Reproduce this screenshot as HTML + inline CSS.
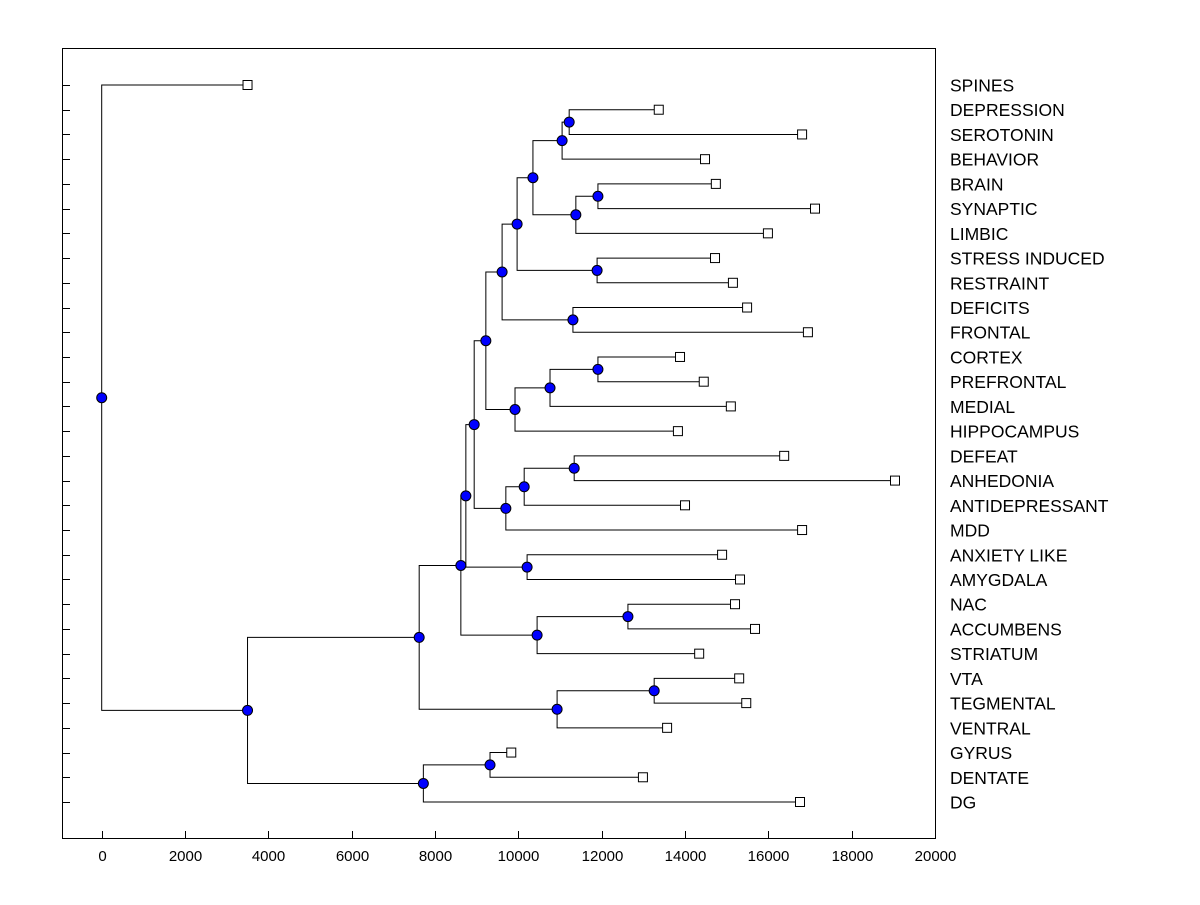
<!DOCTYPE html>
<html><head><meta charset="utf-8"><style>
body{margin:0;background:#fff}
svg text{font-family:"Liberation Sans",Arial,sans-serif}
</style></head><body>
<svg id="chart" width="1200" height="900" viewBox="0 0 1200 900" xmlns="http://www.w3.org/2000/svg">
<rect x="62.5" y="48.5" width="873" height="790" fill="none" stroke="#000" stroke-width="1"/>
<g id="lines"></g>
<g id="marks"></g>
<g id="axis"></g>
<g id="labels"></g>
</svg>
<script>
const leafNames=["SPINES","DEPRESSION","SEROTONIN","BEHAVIOR","BRAIN","SYNAPTIC","LIMBIC","STRESS INDUCED","RESTRAINT","DEFICITS","FRONTAL","CORTEX","PREFRONTAL","MEDIAL","HIPPOCAMPUS","DEFEAT","ANHEDONIA","ANTIDEPRESSANT","MDD","ANXIETY LIKE","AMYGDALA","NAC","ACCUMBENS","STRIATUM","VTA","TEGMENTAL","VENTRAL","GYRUS","DENTATE","DG"];
const leafValues=[3500,13370,16810,14480,14740,17120,15990,14720,15150,15490,16950,13880,14450,15100,13830,16380,19040,14000,16810,14890,15320,15200,15680,14340,15300,15470,13570,9830,12990,16760];
const mergeLeft=[1,30,4,32,31,7,34,9,36,11,39,40,38,15,43,44,42,19,46,21,49,48,24,52,51,27,55,54,0];
const mergeRight=[2,3,5,6,33,8,35,10,37,12,13,14,41,16,17,18,45,20,47,22,23,50,25,26,53,28,29,56,57];
const mergeHeights=[11220,11050,11910,11380,10350,11890,9970,11310,9610,11910,10760,9920,9220,11340,10140,9700,8940,10210,8740,12630,10450,8620,13260,10930,7620,9320,7720,3500,0];
const xTicks=[0,2000,4000,6000,8000,10000,12000,14000,16000,18000,20000];

const NS="http://www.w3.org/2000/svg";
const x=v=>101.7+v*(935-101.7)/20000;
const yRow=i=>85+i*(802-85)/29;
function mk(tag,attrs,parent){const e=document.createElementNS(NS,tag);for(const k in attrs)e.setAttribute(k,attrs[k]);parent.appendChild(e);return e;}
const L=document.getElementById('lines'),M=document.getElementById('marks'),A=document.getElementById('axis'),T=document.getElementById('labels');
const nodeX=[],nodeY=[];
leafValues.forEach((v,i)=>{nodeX[i]=x(v);nodeY[i]=yRow(i);});
mergeHeights.forEach((h,i)=>{
  const id=30+i,a=mergeLeft[i],b=mergeRight[i];
  const nx=x(h),ny=(nodeY[a]+nodeY[b])/2;
  nodeX[id]=nx;nodeY[id]=ny;
  const p=mk('path',{d:`M${nodeX[a]},${nodeY[a]}H${nx}V${nodeY[b]}H${nodeX[b]}`,fill:'none',stroke:'#000','stroke-width':1},L);
  
  
});
mergeHeights.forEach((h,i)=>{
  const c=mk('circle',{cx:nodeX[30+i],cy:nodeY[30+i],r:5,fill:'#0000ff',stroke:'#000','stroke-width':1},M);
  
  
});
leafValues.forEach((v,i)=>{
  const r=mk('rect',{x:nodeX[i]-4.5,y:nodeY[i]-4.5,width:9,height:9,fill:'#fff',stroke:'#000','stroke-width':1},M);
  
  
  const tk=mk('line',{x1:62,x2:70,y1:Math.round(nodeY[i])+0.5,y2:Math.round(nodeY[i])+0.5,stroke:'#000'},A);
  
  
  const t=mk('text',{x:950,y:nodeY[i]+6.5,'font-size':17.5},T);
  t.textContent=leafNames[i];
  
  
});
xTicks.forEach(v=>{
  const px=Math.round(x(v))+0.5;
  const tk=mk('line',{x1:px,x2:px,y1:838,y2:831,stroke:'#000'},A);
  
  
  const t=mk('text',{x:px,y:861,'font-size':15,'text-anchor':'middle'},A);
  t.textContent=v;
  
  
});
</script>
</body></html>
